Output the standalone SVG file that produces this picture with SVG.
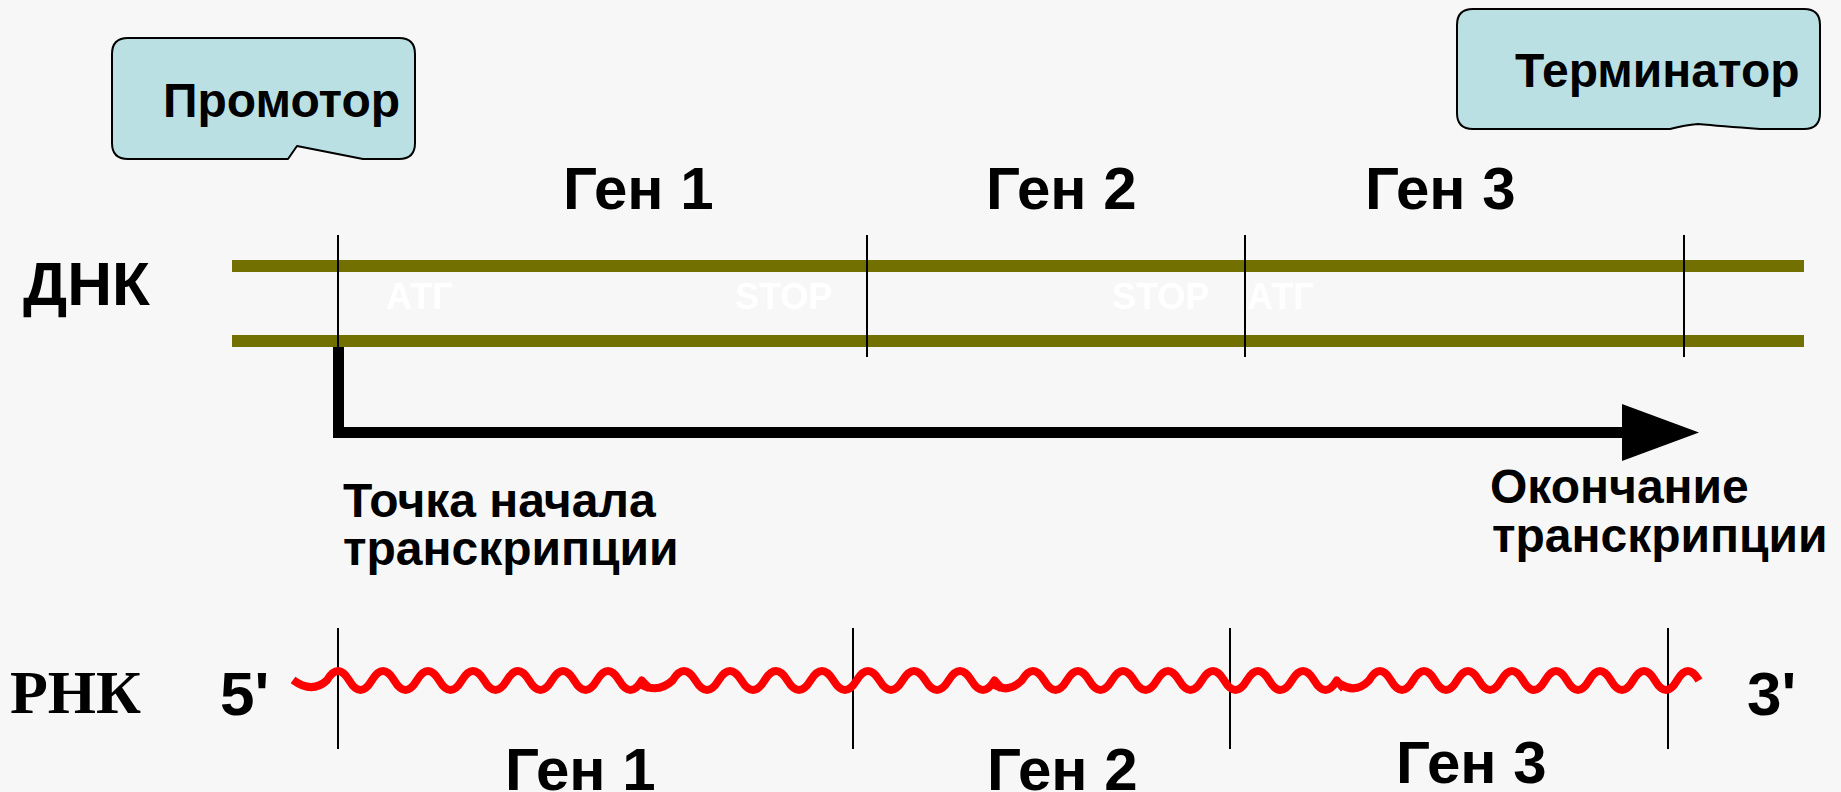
<svg xmlns="http://www.w3.org/2000/svg" width="1841" height="792" viewBox="0 0 1841 792">
  <style>
    .lbl { font-family: "Liberation Sans", Arial, sans-serif; font-weight: bold; fill: #000; }
    .gene { font-size: 60px; }
    .note { font-size: 48px; }
    .codon { font-family: "Liberation Sans", Arial, sans-serif; font-weight: bold; font-size: 36px; fill: #fff; }
    .callout { fill: #bae0e3; stroke: #000; stroke-width: 2; stroke-linejoin: round; }
    .strand { stroke: #727000; stroke-width: 12; }
    .tick { stroke: #000; stroke-width: 2; }
    .rna { fill: none; stroke: #ff0000; stroke-width: 8; stroke-linecap: butt; stroke-linejoin: round; }
  </style>
  <rect width="1841" height="792" fill="#f7f7f7"/>

  <!-- callouts -->
  <g id="promoter">
    <path class="callout" d="M128,38 H399 Q415,38 415,54 V143 Q415,159 399,159 H363 L297,146 L288,159 H128 Q112,159 112,143 V54 Q112,38 128,38 Z"/>
    <text class="lbl note" x="163" y="117">Промотор</text>
  </g>
  <g id="terminator">
    <path class="callout" d="M1473,9 H1804 Q1820,9 1820,25 V113 Q1820,129 1804,129 H1760 Q1720,126 1698,124 Q1685,125 1670,129 H1473 Q1457,129 1457,113 V25 Q1457,9 1473,9 Z"/>
    <text class="lbl note" x="1515" y="87">Терминатор</text>
  </g>

  <!-- gene labels above DNA -->
  <g id="dna-gene-labels">
    <text class="lbl gene" x="563" y="209">Ген 1</text>
    <text class="lbl gene" x="986" y="209">Ген 2</text>
    <text class="lbl gene" x="1365" y="209">Ген 3</text>
  </g>

  <!-- DNA double strand -->
  <g id="dna">
    <text class="lbl" x="23" y="305" font-size="62">ДНК</text>
    <line class="strand" x1="232" y1="266" x2="1804" y2="266"/>
    <line class="strand" x1="232" y1="341" x2="1804" y2="341"/>
    <text class="codon" x="386" y="309">АТГ</text>
    <text class="codon" x="735" y="309">STOP</text>
    <text class="codon" x="1112" y="309">STOP</text>
    <text class="codon" x="1247" y="309">АТГ</text>
  </g>

  <!-- boundaries and transcription arrow -->
  <g id="connectors">
    <line class="tick" x1="338" y1="235" x2="338" y2="357"/>
    <line class="tick" x1="867" y1="235" x2="867" y2="357"/>
    <line class="tick" x1="1245" y1="235" x2="1245" y2="357"/>
    <line class="tick" x1="1684" y1="235" x2="1684" y2="357"/>
    <path d="M338.5,347 V432.5 H1626" fill="none" stroke="#000" stroke-width="11" stroke-linejoin="miter"/>
    <polygon points="1622,404 1699,432.5 1622,461" fill="#000"/>

    <line class="tick" x1="338" y1="628" x2="338" y2="749"/>
    <line class="tick" x1="853" y1="628" x2="853" y2="749"/>
    <line class="tick" x1="1230" y1="628" x2="1230" y2="749"/>
    <line class="tick" x1="1668" y1="628" x2="1668" y2="749"/>
  </g>

  <!-- start / end of transcription notes -->
  <g id="start-note">
    <text class="lbl note" x="343" y="517">Точка начала</text>
    <text class="lbl note" x="343" y="565">транскрипции</text>
  </g>
  <g id="end-note">
    <text class="lbl note" x="1490" y="503">Окончание</text>
    <text class="lbl note" x="1492" y="552">транскрипции</text>
  </g>

  <!-- RNA transcript -->
  <g id="rna">
    <text x="10" y="713" font-family="'Liberation Serif', 'Times New Roman', serif" font-weight="bold" font-size="62">РНК</text>
    <text class="lbl" x="220" y="715" font-size="62">5'</text>
    <text class="lbl" x="1747" y="715" font-size="62">3'</text>
    <path class="rna" d="M293,680 Q312,694 326.75,680.5 q11.25,-19 22.5,0 t22.5,0 t22.5,0 t22.5,0 t22.5,0 t22.5,0 t22.5,0 t22.5,0 t22.5,0 t22.5,0 t22.5,0 t22.5,0 t22.5,0 t22.5,0 L650,689"/>
    <path class="rna" d="M640,684 Q658,694 672.5,680.5 q11.5,-19 23,0 t23,0 t23,0 t23,0 t23,0 t23,0 t23,0 t23,0 t23,0 t23,0 t23,0 t23,0 t23,0 t23,0 L1002,689"/>
    <path class="rna" d="M993,684 Q1008,694 1021.75,680.5 q11.25,-19 22.5,0 t22.5,0 t22.5,0 t22.5,0 t22.5,0 t22.5,0 t22.5,0 t22.5,0 t22.5,0 t22.5,0 t22.5,0 t22.5,0 t22.5,0 t22.5,0 L1344,689"/>
    <path class="rna" d="M1340,684 Q1356,694 1369,680.5 q11,-19 22,0 t22,0 t22,0 t22,0 t22,0 t22,0 t22,0 t22,0 t22,0 t22,0 t22,0 t22,0 t22,0 t22,0 t22,0"/>
  </g>

  <!-- gene labels below RNA -->
  <g id="rna-gene-labels">
    <text class="lbl gene" x="505" y="790">Ген 1</text>
    <text class="lbl gene" x="987" y="790">Ген 2</text>
    <text class="lbl gene" x="1396" y="783">Ген 3</text>
  </g>
</svg>
